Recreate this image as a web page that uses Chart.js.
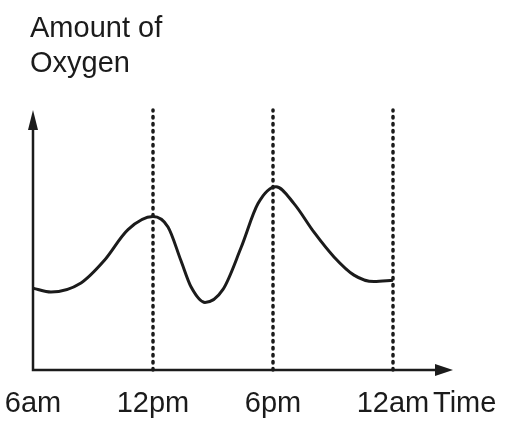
<!DOCTYPE html>
<html>
<head>
<meta charset="utf-8">
<script src="https://cdn.jsdelivr.net/npm/chart.js@4"></script>
<style>
  html, body { margin: 0; padding: 0; background: #fff; }
  #wrap { width: 524px; height: 421px; }
</style>
</head>
<body>
<div id="wrap"><canvas id="c"></canvas></div>
<script>
// data: hours since midnight vs relative oxygen level
const hours  = [6, 6.9, 8.4, 9.55, 10.75, 12, 12.75, 13.4, 13.9, 14.6, 15.5, 16.4, 17.25, 18.15, 19.05, 20.05, 21.05, 22.05, 23.05, 24];
const oxygen = [3.15, 3.0, 3.35, 4.2, 5.4, 5.9, 5.5, 4.2, 3.2, 2.6, 3.1, 4.7, 6.4, 7.05, 6.4, 5.3, 4.35, 3.65, 3.4, 3.45];
const markHours = [12, 18, 24];          // dotted guides
const tickHours = [6, 12, 18, 24];
const tickLabels = ["6am", "12pm", "6pm", "12am"];
const yTitle = ["Amount of", "Oxygen"];
const xTitle = "Time";

const INK = "#1b1b1b";
const FONT = "29px 'Liberation Sans', Arial, sans-serif";

// axes with arrows + hand-placed text, all positioned from the scales
const sketchAxes = {
  id: "sketchAxes",
  afterDatasetsDraw(chart) {
    const { ctx, scales: { x, y } } = chart;
    const x0 = x.getPixelForValue(x.min), x1 = x.getPixelForValue(x.max);
    const y0 = y.getPixelForValue(y.min), y1 = y.getPixelForValue(y.max);
    ctx.save();
    ctx.strokeStyle = INK; ctx.fillStyle = INK; ctx.lineWidth = 2.5;
    ctx.beginPath();
    ctx.moveTo(x0, y1 + 10); ctx.lineTo(x0, y0); ctx.lineTo(x1 - 12, y0);
    ctx.stroke();
    // arrow heads
    ctx.beginPath();
    ctx.moveTo(x0, y1); ctx.lineTo(x0 - 5, y1 + 20); ctx.lineTo(x0 + 5, y1 + 20); ctx.closePath(); ctx.fill();
    ctx.beginPath();
    ctx.moveTo(x1, y0); ctx.lineTo(x1 - 18, y0 - 6); ctx.lineTo(x1 - 18, y0 + 6); ctx.closePath(); ctx.fill();

    ctx.font = FONT; ctx.textBaseline = "alphabetic";
    ctx.textAlign = "center";
    tickHours.forEach((h, i) => ctx.fillText(tickLabels[i], x.getPixelForValue(h), y0 + 42));
    ctx.textAlign = "left";
    ctx.fillText(xTitle, x1 - 20, y0 + 42);
    yTitle.forEach((t, i) => ctx.fillText(t, 30, 37 + i * 35));
    ctx.restore();
  }
};

new Chart(document.getElementById("c"), {
  type: "line",
  data: {
    datasets: [
      {
        data: hours.map((h, i) => ({ x: h, y: oxygen[i] })),
        borderColor: INK, borderWidth: 3, pointRadius: 0,
        cubicInterpolationMode: "monotone", fill: false
      },
      ...markHours.map(h => ({
        data: [{ x: h, y: 0 }, { x: h, y: 10 }],
        borderColor: INK, borderWidth: 3.5, borderDash: [1.5, 5.5], borderCapStyle: "round",
        pointRadius: 0, clip: false
      }))
    ]
  },
  options: {
    responsive: true, maintainAspectRatio: false, animation: false,
    layout: { padding: { left: 33, right: 71, top: 110, bottom: 51 } },
    plugins: { legend: { display: false }, tooltip: { enabled: false } },
    scales: {
      x: { type: "linear", min: 6, max: 27, display: false },
      y: { min: 0, max: 10, display: false }
    }
  },
  plugins: [sketchAxes]
});
</script>
</body>
</html>
